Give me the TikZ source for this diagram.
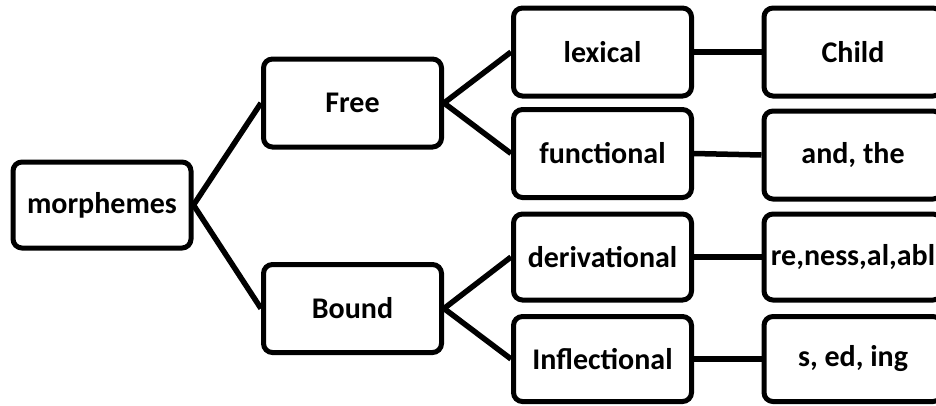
\documentclass[tikz,border=0pt]{standalone}
\usepackage{fontspec}
\setmainfont{Carlito}
\begin{document}
\begin{tikzpicture}[x=1pt,y=-1pt,
  box/.style={draw=black,line width=5pt,rounded corners=9pt,fill=white,
    minimum width=178pt,minimum height=88pt,inner sep=0pt,
    font=\fontsize{30}{34}\selectfont\bfseries},
  link/.style={draw=black,line width=5.5pt}]
\clip (0,0) rectangle (936,405);
\fill[white] (0,0) rectangle (936,405);
\node[box,minimum height=86pt] (m) at (102,205) {morphemes};
\node[box] (free) at (352.5,103) {Free};
\node[box] (bound) at (352.5,308.5) {Bound};
\node[box] (lex) at (602.5,52) {lexical};
\node[box] (fun) at (602.5,153.5) {functional};
\node[box,minimum height=86pt] (der) at (602.5,257) {derivational};
\node[box,minimum height=85pt] (inf) at (602.5,359) {Inflectional};
\node[box] (child) at (853,52) {Child};
\node[box] (andthe) at (853,155) {and, the};
\node[box,minimum height=86pt] (ness) at (853,257) {re,ness,al,abl};
\node[box,minimum height=85pt] (sed) at (853,359) {s, ed, ing};
\draw[link] (m.east) -- (free.west);
\draw[link] (m.east) -- (bound.west);
\draw[link] (free.east) -- (lex.west);
\draw[link] (free.east) -- (fun.west);
\draw[link] (bound.east) -- (der.west);
\draw[link] (bound.east) -- (inf.west);
\draw[link] (lex.east) -- (child.west);
\draw[link] (fun.east) -- (andthe.west);
\draw[link] (der.east) -- (ness.west);
\draw[link] (inf.east) -- (sed.west);
\end{tikzpicture}
\end{document}
